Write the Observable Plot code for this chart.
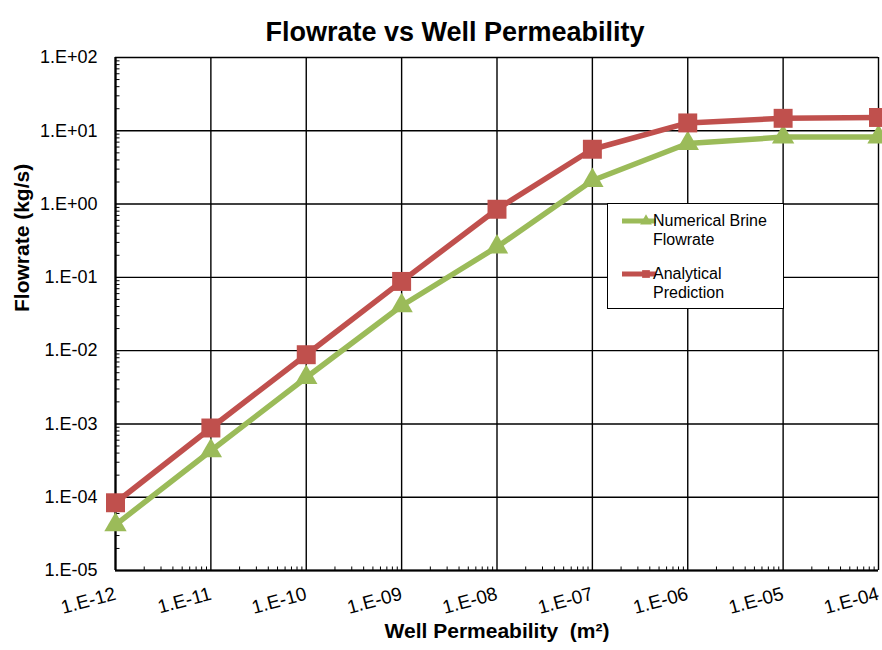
<!DOCTYPE html>
<html>
<head>
<meta charset="utf-8">
<script src="https://cdn.jsdelivr.net/npm/d3@7"></script>
<script src="https://cdn.jsdelivr.net/npm/@observablehq/plot@0.6"></script>
<style>
  body { margin: 0; background: #fff; font-family: "Liberation Sans", Arial, sans-serif; }
  #chart { position: relative; width: 882px; height: 650px; }
  .legend { position: absolute; left: 607px; top: 203px; width: 177px; height: 106px;
            border: 1px solid #000; background: #fff; box-sizing: border-box;
            font-size: 16px; line-height: 19px; color: #000; }
  .legend .item { position: absolute; left: 45px; }
  .legend svg { position: absolute; left: 14px; }
</style>
</head>
<body>
<div id="chart"></div>
<script>
// Well permeability (m²) and brine flowrate (kg/s)
const permeability = [1e-12, 1e-11, 1e-10, 1e-9, 1e-8, 1e-7, 1e-6, 1e-5, 1e-4];
const numericalFlow = [4.2e-5, 4.3e-4, 4.3e-3, 0.041, 0.26, 2.1, 6.7, 8.2, 8.2];
const analyticalFlow = [8.4e-5, 8.8e-4, 8.8e-3, 0.088, 0.85, 5.6, 12.8, 14.8, 15.2];
const seriesNames = ["Numerical Brine Flowrate", "Analytical Prediction"];
const seriesColors = ["#9BBB59", "#C0504D"];

const xTickValues = [1e-12, 1e-11, 1e-10, 1e-9, 1e-8, 1e-7, 1e-6, 1e-5, 1e-4];
const yTickValues = [1e-5, 1e-4, 1e-3, 1e-2, 1e-1, 1e0, 1e1, 1e2];
const minorMultipliers = [2, 3, 4, 5, 6, 7, 8, 9];

const titleText = "Flowrate vs Well Permeability";
const xLabelText = "Well Permeability  (m\u00B2)";
const yLabelText = "Flowrate (kg/s)";

// Excel-style scientific labels: 1.E-05, 1.E+02
const sciFormat = d => {
  const e = Math.round(Math.log10(d));
  return "1.E" + (e < 0 ? "-" : "+") + String(Math.abs(e)).padStart(2, "0");
};

const minorX = xTickValues.slice(0, -1).flatMap(t => minorMultipliers.map(m => t * m));
const minorY = yTickValues.slice(0, -1).flatMap(t => minorMultipliers.map(m => t * m));

// short inward tick glyphs for the minor ticks
const tickUp = { draw(ctx) { ctx.moveTo(0, 0); ctx.lineTo(0, -4); } };
const tickRight = { draw(ctx) { ctx.moveTo(0, 0); ctx.lineTo(4, 0); } };

const rows = permeability.flatMap((k, i) => [
  { k, q: numericalFlow[i], series: seriesNames[0] },
  { k, q: analyticalFlow[i], series: seriesNames[1] }
]);
const numRows = rows.filter(d => d.series === seriesNames[0]);
const anaRows = rows.filter(d => d.series === seriesNames[1]);

const xMin = xTickValues[0];
const yMin = yTickValues[0];

const chart = Plot.plot({
  width: 882,
  height: 650,
  marginTop: 57,
  marginBottom: 80,
  marginLeft: 115,
  marginRight: 4,
  style: { fontFamily: "'Liberation Sans', Arial, sans-serif", fontSize: "19px", color: "#000", background: "#fff", overflow: "visible" },
  x: { type: "log", domain: [xTickValues[0], xTickValues[xTickValues.length - 1]] },
  y: { type: "log", domain: [yTickValues[0], yTickValues[yTickValues.length - 1]] },
  marks: [
    Plot.gridX(xTickValues, { stroke: "#000", strokeOpacity: 1, strokeWidth: 1.4 }),
    Plot.gridY(yTickValues, { stroke: "#000", strokeOpacity: 1, strokeWidth: 1.4 }),
    Plot.dot(minorX, { x: d => d, y: () => yMin, symbol: tickUp, stroke: "#000", fill: "none", strokeWidth: 1 }),
    Plot.dot(minorY, { x: () => xMin, y: d => d, symbol: tickRight, stroke: "#000", fill: "none", strokeWidth: 1 }),
    Plot.axisX(xTickValues, { tickSize: 0, tickPadding: 23, tickRotate: -15, tickFormat: sciFormat, label: null, fontSize: 19 }),
    Plot.axisY(yTickValues, { tickSize: 0, tickPadding: 18, tickFormat: sciFormat, label: null, fontSize: 18 }),
    Plot.ruleX([xMin], { stroke: "#000", strokeWidth: 2.2 }),
    Plot.ruleY([yMin], { stroke: "#000", strokeWidth: 2.2 }),
    Plot.line(numRows, { x: "k", y: "q", stroke: seriesColors[0], strokeWidth: 5.5 }),
    Plot.dot(numRows, { x: "k", y: "q", symbol: "triangle", r: 8.3, fill: seriesColors[0], stroke: "none" }),
    Plot.line(anaRows, { x: "k", y: "q", stroke: seriesColors[1], strokeWidth: 5.5 }),
    Plot.dot(anaRows, { x: "k", y: "q", symbol: "square", r: 10.7, fill: seriesColors[1], stroke: "none" }),
    Plot.text([titleText], { frameAnchor: "top", dx: -42, dy: -36, fontSize: 27, fontWeight: "bold" }),
    Plot.text([xLabelText], { frameAnchor: "bottom", dy: 67, fontSize: 21, fontWeight: "bold" }),
    Plot.text([yLabelText], { frameAnchor: "left", dx: -93, dy: -2, rotate: -90, fontSize: 21, fontWeight: "bold" })
  ]
});

const host = document.getElementById("chart");
host.appendChild(chart);

// legend box
const legend = document.createElement("div");
legend.className = "legend";
const legendRows = [
  { lines: ["Numerical Brine", "Flowrate"], color: seriesColors[0], symbol: "triangle", top: 7 },
  { lines: ["Analytical", "Prediction"], color: seriesColors[1], symbol: "square", top: 60 }
];
for (const r of legendRows) {
  const sw = d3.create("svg").attr("width", 34).attr("height", 14)
    .style("top", (r.top + 3) + "px");
  sw.append("line").attr("x1", 0).attr("x2", 34).attr("y1", 7).attr("y2", 7)
    .attr("stroke", r.color).attr("stroke-width", 5);
  const sym = r.symbol === "triangle" ? d3.symbolTriangle : d3.symbolSquare;
  sw.append("path").attr("d", d3.symbol(sym, 60)()).attr("transform", "translate(24,7)").attr("fill", r.color);
  legend.appendChild(sw.node());
  const t = document.createElement("div");
  t.className = "item";
  t.style.top = r.top + "px";
  t.innerHTML = r.lines.join("<br>");
  legend.appendChild(t);
}
host.appendChild(legend);
</script>
</body>
</html>
